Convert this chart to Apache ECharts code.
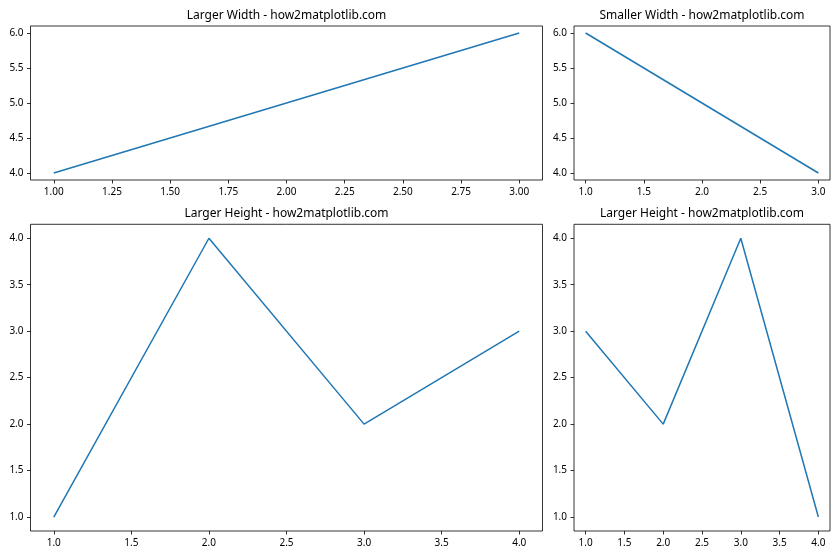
<!DOCTYPE html>
<html>
<head>
<meta charset="utf-8">
<script src="https://cdn.jsdelivr.net/npm/echarts@6/dist/echarts.min.js"></script>
<style>html,body{margin:0;padding:0;background:#fff}#c{width:840px;height:560px}</style>
</head>
<body>
<div id="c"></div>
<script>
// Data
const tlX = [1, 3];
const tlY = [4, 6];
const trX = [1, 3];
const trY = [6, 4];
const blX = [1, 2, 3, 4];
const blY = [1, 4, 2, 3];
const brX = [1, 2, 3, 4];
const brY = [3, 2, 4, 1];

// Tick labels
const tlXTicks = [1.00, 1.25, 1.50, 1.75, 2.00, 2.25, 2.50, 2.75, 3.00];
const tlYTicks = [4.0, 4.5, 5.0, 5.5, 6.0];
const trXTicks = [1.0, 1.5, 2.0, 2.5, 3.0];
const trYTicks = [4.0, 4.5, 5.0, 5.5, 6.0];
const blXTicks = [1.0, 1.5, 2.0, 2.5, 3.0, 3.5, 4.0];
const blYTicks = [1.0, 1.5, 2.0, 2.5, 3.0, 3.5, 4.0];
const brXTicks = [1.0, 1.5, 2.0, 2.5, 3.0, 3.5, 4.0];
const brYTicks = [1.0, 1.5, 2.0, 2.5, 3.0, 3.5, 4.0];

const titles = [
  'Larger Width - how2matplotlib.com',
  'Smaller Width - how2matplotlib.com',
  'Larger Height - how2matplotlib.com',
  'Larger Height - how2matplotlib.com'
];

const FONT = '"Noto Sans", "DejaVu Sans", sans-serif';
const grids = [
  {left: 30.5, top: 26, width: 512, height: 154},
  {left: 574, top: 26, width: 256, height: 154},
  {left: 30.5, top: 224.3, width: 512, height: 306.7},
  {left: 574, top: 224.3, width: 256, height: 306.7}
];
const titleTops = [10, 10, 208, 208];

function lim(arr) {
  const mn = Math.min(...arr), mx = Math.max(...arr);
  const pad = (mx - mn) * 0.05;
  return [mn - pad, mx + pad];
}

const panels = [
  {x: tlX, y: tlY, xt: tlXTicks, yt: tlYTicks, xd: 2, yd: 1},
  {x: trX, y: trY, xt: trXTicks, yt: trYTicks, xd: 1, yd: 1},
  {x: blX, y: blY, xt: blXTicks, yt: blYTicks, xd: 1, yd: 1},
  {x: brX, y: brY, xt: brXTicks, yt: brYTicks, xd: 1, yd: 1}
];

function axis(type, i, data, ticks, dec) {
  const l = lim(data);
  return {
    type: 'value',
    gridIndex: i,
    min: l[0],
    max: l[1],
    axisLine: {show: false},
    splitLine: {show: false},
    axisTick: {show: true, length: 3.5, inside: false, customValues: ticks,
      lineStyle: {color: '#000', width: 0.8}},
    axisLabel: {show: true, margin: 7, customValues: ticks, color: '#000',
      fontSize: 10, fontFamily: FONT,
      formatter: v => Number(v).toFixed(dec)}
  };
}

const option = {
  animation: false,
  backgroundColor: '#fff',
  title: titles.map((t, i) => ({
    text: t,
    left: grids[i].left + grids[i].width / 2,
    top: titleTops[i],
    textAlign: 'center',
    padding: 0,
    textStyle: {fontSize: 12, fontWeight: 'normal', color: '#000', fontFamily: FONT}
  })),
  grid: grids.map(g => Object.assign({show: true, borderColor: '#000', borderWidth: 0.8,
    backgroundColor: 'transparent', containLabel: false}, g)),
  xAxis: panels.map((p, i) => axis('x', i, p.x, p.xt, p.xd)),
  yAxis: panels.map((p, i) => axis('y', i, p.y, p.yt, p.yd)),
  series: panels.map((p, i) => ({
    type: 'line',
    xAxisIndex: i,
    yAxisIndex: i,
    data: p.x.map((v, k) => [v, p.y[k]]),
    showSymbol: false,
    symbol: 'none',
    lineStyle: {color: '#1f77b4', width: 1.5},
    itemStyle: {color: '#1f77b4'}
  }))
};

const chart = echarts.init(document.getElementById('c'), null, {renderer: 'canvas'});
chart.setOption(option);
</script>
</body>
</html>
